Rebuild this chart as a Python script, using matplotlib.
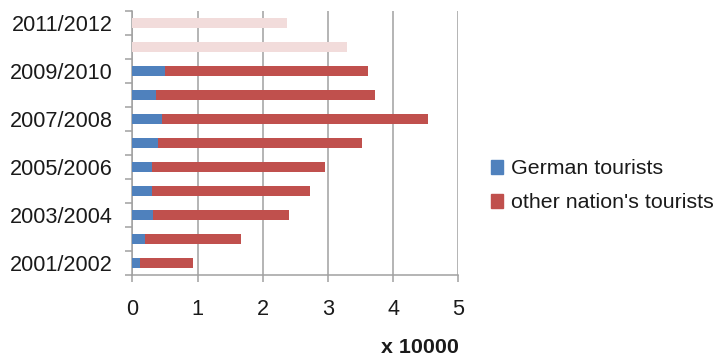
import numpy as np
import matplotlib.pyplot as plt
from matplotlib.patches import Patch

plt.rcParams['font.family'] = ['Liberation Sans', 'DejaVu Sans']

seasons = ['2001/2002', '2002/2003', '2003/2004', '2004/2005', '2005/2006',
           '2006/2007', '2007/2008', '2008/2009', '2009/2010',
           '2010/2011', '2011/2012']
# tourists in units of 10000, complete seasons
german = [0.12, 0.19, 0.31, 0.30, 0.30, 0.39, 0.46, 0.37, 0.50]
total = [0.93, 1.66, 2.41, 2.72, 2.96, 3.53, 4.53, 3.72, 3.62]
other = [t - g for t, g in zip(total, german)]
# last two seasons, totals only
prelim = [3.29, 2.37]

blue = '#4F81BD'
red = '#C0504D'
pink = '#F2DCDB'
grey = '#A0A0A0'

fig = plt.figure(figsize=(7.13, 3.56), dpi=100)
ax = fig.add_axes([0.1856, 0.2275, 0.4572, 0.7416])

y = np.arange(len(seasons))
h = 0.42
n = len(german)
ax.barh(y[:n], german, height=h, color=blue, zorder=3)
ax.barh(y[:n], other, left=german, height=h, color=red, zorder=3)
ax.barh(y[n:], prelim, height=h, color=pink, zorder=3)

ax.set_xlim(0, 5)
ax.set_ylim(-0.5, len(seasons) - 0.5)
ax.set_xticks(range(6))
ax.xaxis.grid(True, color=grey, lw=1.1, zorder=0)

# category boundary ticks, labels on every other season
ax.set_yticks(np.arange(-0.5, len(seasons)))
ax.set_yticklabels([])
ax.set_yticks(y[::2], minor=True)
ax.set_yticklabels(seasons[::2], minor=True)
ax.tick_params(axis='y', which='major', length=5, width=1.1, color=grey)
ax.tick_params(axis='y', which='minor', length=0, pad=14, labelsize=15.6,
               labelcolor='#1a1a1a')
ax.tick_params(axis='x', length=5, width=1.1, color=grey, pad=12,
               labelsize=15.6, labelcolor='#1a1a1a')

for s in ['top', 'right']:
    ax.spines[s].set_visible(False)
for s in ['left', 'bottom']:
    ax.spines[s].set_color(grey)
    ax.spines[s].set_linewidth(1.1)

fig.text(0.644, 0.025, 'x 10000', ha='right', va='center',
         fontsize=15.4, fontweight='bold', color='#1a1a1a')

handles = [Patch(color=blue, label='German tourists'),
           Patch(color=red, label="other nation's tourists")]
fig.legend(handles=handles, loc='center left', bbox_to_anchor=(0.688, 0.478),
           frameon=False, fontsize=15.4, handlelength=0.6, handleheight=0.6,
           handletextpad=0.35, labelspacing=0.7, borderpad=0, borderaxespad=0,
           labelcolor='#1a1a1a')

fig.savefig('out.png', dpi=100)
